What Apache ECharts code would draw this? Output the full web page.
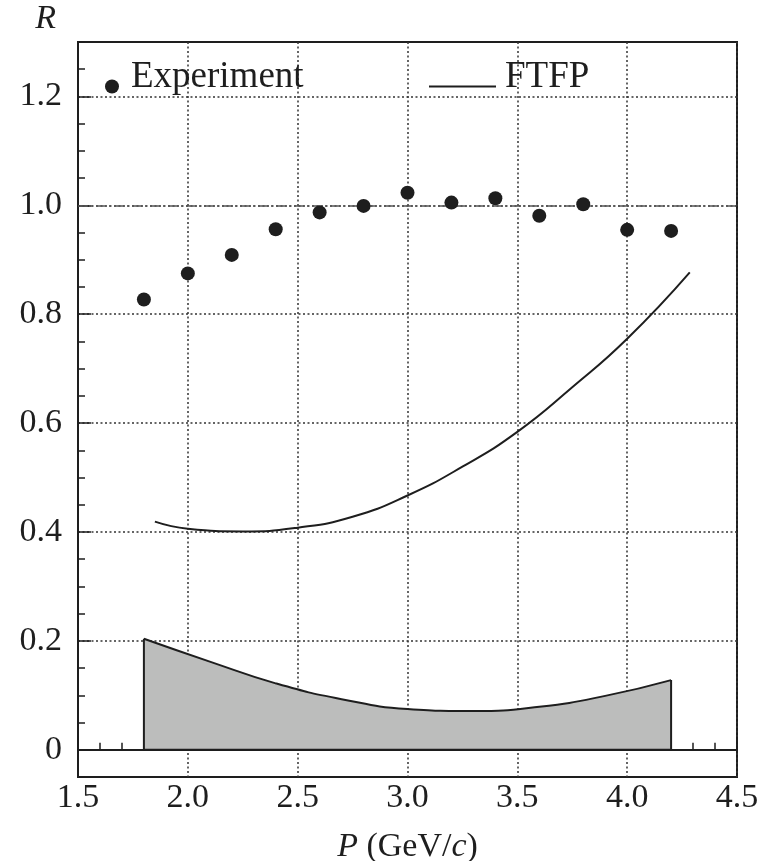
<!DOCTYPE html>
<html><head><meta charset="utf-8">
<script src="https://cdn.jsdelivr.net/npm/echarts@6/dist/echarts.min.js"></script>
<style>html,body{margin:0;padding:0;background:#fff}#c{width:761px;height:861px}</style>
</head><body><div id="c"></div>
<script>
// ---- data ----
const xTicks = [1.5, 2.0, 2.5, 3.0, 3.5, 4.0, 4.5];
const yTicks = [0, 0.2, 0.4, 0.6, 0.8, 1.0, 1.2];
const expP = [1.8, 2.0, 2.2, 2.4, 2.6, 2.8, 3.0, 3.2, 3.4, 3.6, 3.8, 4.0, 4.2];
const expR = [0.827, 0.875, 0.909, 0.956, 0.987, 0.999, 1.023, 1.005, 1.013, 0.981, 1.002, 0.955, 0.953];
const ftfpP = [1.85, 2.0, 2.25, 2.5, 2.75, 3.0, 3.25, 3.5, 3.75, 4.0, 4.285];
const ftfpR = [0.419, 0.406, 0.401, 0.408, 0.428, 0.467, 0.520, 0.584, 0.666, 0.755, 0.877];
const bandP = [1.8, 2.1, 2.4, 2.7, 3.0, 3.3, 3.6, 3.9, 4.2];
const bandR = [0.204, 0.162, 0.122, 0.093, 0.075, 0.071, 0.079, 0.099, 0.128];
const refR = 1.0;
const seriesNames = ['Experiment', 'FTFP'];

// ---- chart ----
const FONT = '"Liberation Serif", "DejaVu Serif", serif';
const INK = '#1e1e1e';
const fmt = v => (Math.abs(v) < 1e-9 ? '0' : v.toFixed(1));
const dotted = { type: [2, 2.5], color: '#333', width: 1.5 };

const bandTop = bandP.map((p, i) => [p, bandR[i]]);
const last = bandP.length - 1;
const bandEdges = [[bandP[0], bandR[0]], [bandP[0], 0], [bandP[last], 0], [bandP[last], bandR[last]]];

const legendText = (padLeft) => ({
  fontSize: 37, fontFamily: FONT, color: INK,
  rich: { a: { fontSize: 37, fontFamily: FONT, color: INK, padding: [0, 0, 18, padLeft] } }
});

const chart = echarts.init(document.getElementById('c'), null, { renderer: 'canvas' });
chart.setOption({
  animation: false,
  backgroundColor: '#fff',
  textStyle: { fontFamily: FONT },
  grid: { left: 78, right: 24, top: 42, bottom: 84, outerBoundsMode: 'none', containLabel: false,
    show: true, borderColor: INK, borderWidth: 2, backgroundColor: 'transparent' },
  legend: [
    { data: [seriesNames[0]], left: 105, top: 59, padding: 0, itemWidth: 28, itemHeight: 14, selectedMode: false,
      formatter: '{a|{name}}', textStyle: legendText(0) },
    { data: [seriesNames[1]], left: 428, top: 59, padding: 0, itemWidth: 67, itemHeight: 14, selectedMode: false,
      itemStyle: { opacity: 0 }, lineStyle: { width: 2, color: INK },
      formatter: '{a|{name}}', textStyle: legendText(4) }
  ],
  xAxis: {
    type: 'value', min: xTicks[0], max: xTicks[xTicks.length - 1], interval: 0.5,
    axisLine: { lineStyle: { color: INK, width: 2 } },
    axisTick: { inside: true, length: 13, lineStyle: { color: INK, width: 1.5 } },
    minorTick: { show: true, splitNumber: 5, length: 7, lineStyle: { color: INK, width: 1.5 } },
    axisLabel: { margin: 4, fontSize: 34, color: INK, fontFamily: FONT, formatter: fmt },
    splitLine: { show: true, lineStyle: dotted },
    name: '{i|P} (GeV/{i|c})', nameLocation: 'middle', nameGap: 53, nameMoveOverlap: false,
    nameTextStyle: { fontSize: 34, color: INK, fontFamily: FONT,
      rich: { i: { fontStyle: 'italic', fontSize: 34, fontFamily: FONT, color: INK } } }
  },
  yAxis: [
    {
      type: 'value', min: -0.05, max: 1.3, position: 'left',
      axisLine: { lineStyle: { color: INK, width: 2 } },
      axisTick: { inside: true, length: 13, customValues: yTicks, lineStyle: { color: INK, width: 1.5 } },
      axisLabel: { customValues: yTicks, margin: 16, fontSize: 34, color: INK, fontFamily: FONT, formatter: fmt },
      splitLine: { show: true, lineStyle: dotted },
      name: 'R', nameLocation: 'end', nameGap: 6,
      nameTextStyle: { fontSize: 34, fontStyle: 'italic', color: INK, fontFamily: FONT, align: 'right', padding: [0, 22, 0, 0] }
    },
    {
      type: 'value', min: -0.05, max: 1.3, interval: 0.05, position: 'left',
      axisLine: { show: false },
      axisTick: { inside: true, length: 7, lineStyle: { color: INK, width: 1.5 } },
      axisLabel: { show: false },
      splitLine: { show: false }
    }
  ],
  series: [
    { name: 'band', type: 'line', data: bandTop, smooth: 0.5, symbol: 'none', silent: true, z: 2,
      lineStyle: { color: INK, width: 2 }, areaStyle: { color: '#bcbdbc', opacity: 1, origin: 0 } },
    { name: 'bandEdge', type: 'line', data: bandEdges, symbol: 'none', silent: true, z: 3,
      lineStyle: { color: INK, width: 2 } },
    { name: seriesNames[1], type: 'line', data: ftfpP.map((p, i) => [p, ftfpR[i]]), smooth: 0.5, symbol: 'none', z: 4,
      lineStyle: { color: INK, width: 2 }, itemStyle: { color: INK } },
    { name: seriesNames[0], type: 'scatter', data: expP.map((p, i) => [p, expR[i]]), symbol: 'circle', symbolSize: 14, z: 5,
      itemStyle: { color: INK, opacity: 1 },
      markLine: { silent: true, symbol: 'none', label: { show: false },
        lineStyle: { type: [10, 3, 2, 3], color: '#555', width: 1.5 },
        data: [{ yAxis: refR }] } }
  ]
});
</script>
</body></html>
